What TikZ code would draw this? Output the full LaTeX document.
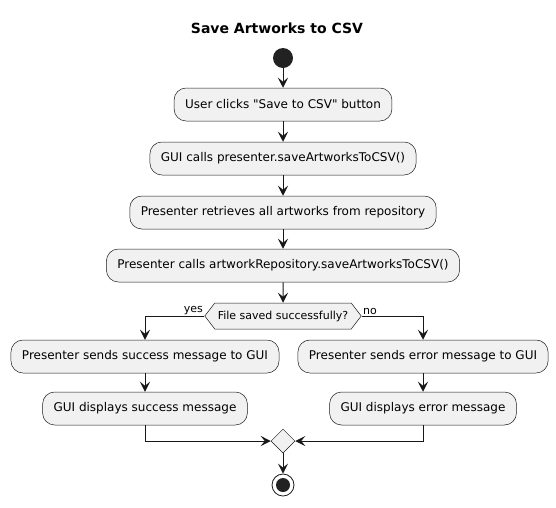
\documentclass[tikz,border=0pt]{standalone}
\usepackage{fontspec}
\setmainfont{DejaVu Sans}
\usetikzlibrary{arrows.meta,shapes.geometric,shapes.symbols}
\definecolor{actfill}{HTML}{F1F1F1}
\definecolor{actline}{HTML}{181818}
\definecolor{dotfill}{HTML}{222222}

\begin{document}
\begin{tikzpicture}[x=1pt, y=-1pt,
	action/.style={draw=actline, fill=actfill, line width=0.5pt, rounded corners=12pt,
		minimum height=33pt, inner xsep=11pt, font=\fontsize{12}{14}\selectfont},
	decision/.style={draw=actline, fill=actfill, line width=0.5pt, signal, signal to=west and east,
		signal pointer angle=105, minimum height=26pt, inner xsep=3pt, font=\fontsize{11}{13}\selectfont},
	merge/.style={draw=actline, fill=actfill, line width=0.5pt, diamond, minimum width=24pt,
		minimum height=24pt, inner sep=0pt},
	flow/.style={draw=actline, line width=1pt, -{Stealth[length=10pt, width=10pt, inset=4pt]}},
	branch/.style={font=\fontsize{11}{13}\selectfont, inner sep=1pt}
	]

	\useasboundingbox (0,0) rectangle (556,507);

	%title
	\node[font=\bfseries\fontsize{14}{17}\selectfont] (title) at (277,28) {Save Artworks to CSV};

	%main column
	\node[circle, fill=dotfill, minimum size=20pt, inner sep=0pt] (start) at (283,58) {};
	\node[action] (click) at (283,104.5) {User clicks \textquotedbl Save to CSV\textquotedbl\ button};
	\node[action] (guicall) at (283,158.5) {GUI calls presenter.saveArtworksToCSV()};
	\node[action] (fetch) at (283,212.5) {Presenter retrieves all artworks from repository};
	\node[action] (repocall) at (283,265.5) {Presenter calls artworkRepository.saveArtworksToCSV()};
	\node[decision] (saved) at (283,316) {File saved successfully?};

	%yes branch
	\node[action] (okmsg) at (145,356.5) {Presenter sends success message to GUI};
	\node[action] (okshow) at (145,408.5) {GUI displays success message};

	%no branch
	\node[action] (errmsg) at (423,356.5) {Presenter sends error message to GUI};
	\node[action] (errshow) at (423,408.5) {GUI displays error message};

	%end
	\node[merge] (join) at (283,441) {};
	\node[circle, draw=actline, line width=0.8pt, minimum size=22pt, inner sep=0pt,
		path picture={\fill[dotfill] (path picture bounding box.center) circle (7pt);}] (stop) at (283,485) {};

	%arrows
	\draw[flow] (start) -- (click);
	\draw[flow] (click) -- (guicall);
	\draw[flow] (guicall) -- (fetch);
	\draw[flow] (fetch) -- (repocall);
	\draw[flow] (repocall) -- (saved);
	\draw[flow] (saved.west) node[branch, anchor=south east] {yes} -| (okmsg);
	\draw[flow] (saved.east) node[branch, anchor=south west] {no} -| (errmsg);
	\draw[flow] (okmsg) -- (okshow);
	\draw[flow] (errmsg) -- (errshow);
	\draw[flow] (okshow) |- (join);
	\draw[flow] (errshow) |- (join);
	\draw[flow] (join) -- (stop);

\end{tikzpicture}
\end{document}
